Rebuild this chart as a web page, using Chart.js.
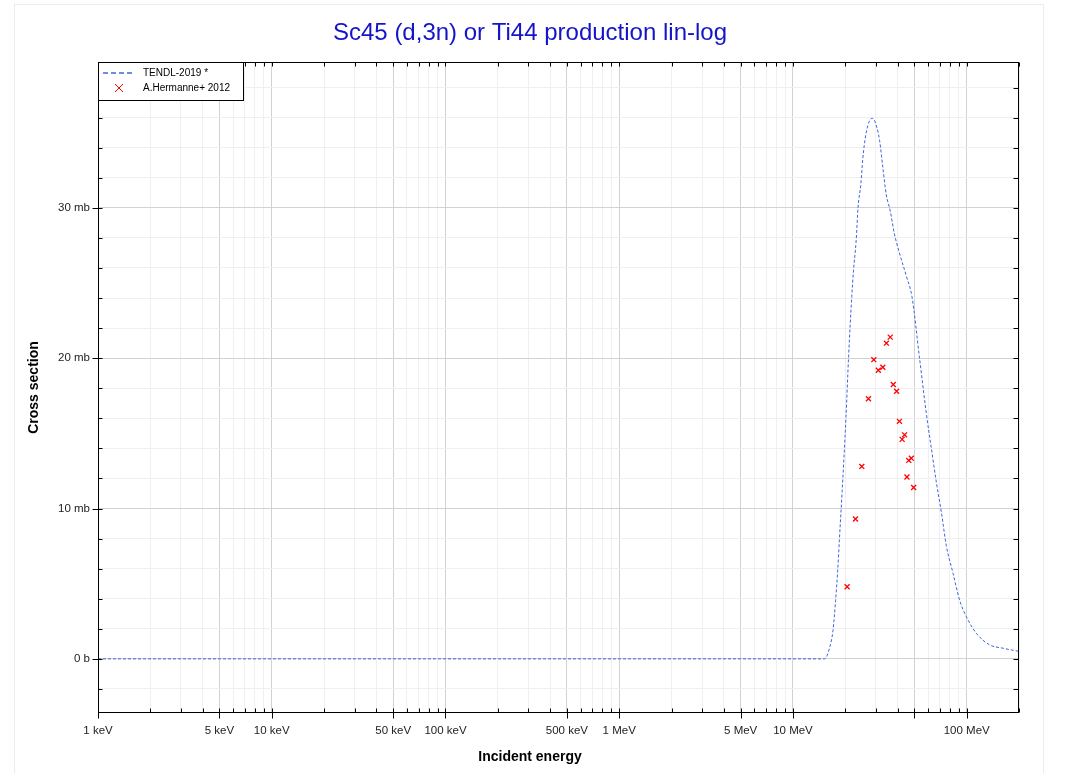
<!DOCTYPE html>
<html>
<head>
<meta charset="utf-8">
<script src="https://cdn.jsdelivr.net/npm/chart.js@4/dist/chart.umd.min.js"></script>
<style>
  body { margin: 0; background: #fff; }
  canvas { display: block; }
</style>
</head>
<body>
<canvas id="xsChart" width="1067" height="773"></canvas>
<script>
/*
DATA
*/
// TENDL-2019 evaluation, energy in MeV, cross section in mb
const tendlEnergy = [0.001, 15.2, 16.3, 17.0, 17.6, 18.1, 18.5, 19.2, 20.2, 20.9, 21.8, 22.3, 23.1, 23.7,
  24.6, 25.2, 26.3, 27.6, 28.5, 29.5, 31.5, 32.9, 34.4, 36.3, 38.3, 41.0, 45.1, 48.4, 53.4, 58.3,
  63.7, 67.0, 71.6, 76.4, 83.4, 91.1, 99.6, 113.7, 135.6, 161.5, 200];
const tendlXs = [0, 0, 0.8, 1.9, 3.9, 5.9, 7.9, 11.2, 16.1, 20.1, 24.1, 25.8, 27.8, 30.05,
  31.6, 33.2, 34.9, 35.8, 35.95, 35.8, 34.5, 32.7, 30.9, 29.8, 28.3, 27.0, 25.4, 24.1, 20.1, 16.5,
  13.4, 11.7, 9.7, 7.5, 5.7, 3.9, 2.8, 1.7, 0.93, 0.71, 0.5];

// A.Hermanne+ 2012 measurements
const expEnergy = [20.5, 22.9, 24.9, 27.2, 29.2, 31.0, 32.9, 34.5, 36.3, 37.8, 39.5, 41.0, 42.5,
  43.9, 45.3, 46.4, 48.0, 49.5];
const expXs = [4.8, 9.3, 12.8, 17.3, 19.9, 19.2, 19.4, 21.0, 21.4, 18.25, 17.8, 15.8, 14.6,
  14.9, 12.1, 13.2, 13.35, 11.4];

// tick labels
const xLabelled = [0.001, 0.005, 0.01, 0.05, 0.1, 0.5, 1, 5, 10, 100];
const xMajorGrid = [0.001, 0.005, 0.01, 0.05, 0.1, 0.5, 1, 5, 10, 50, 100];
const yLabelled = [0, 10, 20, 30];

const FONT = '"Liberation Sans", Arial, Helvetica, sans-serif';
const BLUE = '#3d66dd';

// full log tick list 1..9 per decade
let xTicks = [];
for (let d = -3; d <= 2; d++) {
  for (let m = 1; m <= 9; m++) {
    let v = +(m * Math.pow(10, d)).toPrecision(3);
    if (v <= 200) xTicks.push(v);
  }
}
let yTicks = [];
for (let v = -2; v <= 38; v += 2) yTicks.push(v);

function near(list, v) {
  return list.some(a => Math.abs(a - v) / a < 1e-6 || (a === 0 && v === 0));
}
function energyLabel(v) {
  if (!near(xLabelled, v)) return '';
  if (v < 1) return Math.round(v * 1000) + ' keV';
  return Math.round(v) + ' MeV';
}
function xsLabel(v) {
  if (!yLabelled.includes(v)) return '';
  return v === 0 ? '0 b' : v + ' mb';
}

/*
DECORATION PLUGIN: frame, tick marks, legend, titles
*/
const decor = {
  id: 'decor',
  beforeDraw(chart) {
    const ctx = chart.ctx;
    ctx.save();
    ctx.fillStyle = '#fff';
    ctx.fillRect(0, 0, chart.width, chart.height);
    ctx.strokeStyle = '#ececec';
    ctx.lineWidth = 1;
    ctx.strokeRect(14.5, 4.5, 1029, 800);
    ctx.restore();
  },
  afterDatasetsDraw(chart) {
    const ctx = chart.ctx;
    const a = chart.chartArea;
    const xs = chart.scales.x, ys = chart.scales.y;
    const L = Math.round(a.left) + 0.5, R = Math.round(a.right) - 0.5;
    const T = Math.round(a.top) + 0.5, B = Math.round(a.bottom) - 0.5;
    ctx.save();
    ctx.strokeStyle = '#000';
    ctx.lineWidth = 1;
    ctx.beginPath();
    for (let v of xTicks) {
      let px = Math.round(xs.getPixelForValue(v)) + 0.5;
      let major = near(xMajorGrid, v);
      ctx.moveTo(px, B - 4); ctx.lineTo(px, major ? B + 6 : B);
      ctx.moveTo(px, T); ctx.lineTo(px, T + 4);
    }
    for (let v of yTicks) {
      let py = Math.round(ys.getPixelForValue(v)) + 0.5;
      let major = yLabelled.includes(v);
      ctx.moveTo(major ? L - 6 : L, py); ctx.lineTo(L + 4, py);
      ctx.moveTo(R - 5, py); ctx.lineTo(R, py);
    }
    ctx.stroke();
    ctx.strokeRect(L, T, R - L, B - T);

    // legend box
    const ds = chart.data.datasets;
    ctx.fillStyle = '#fff';
    ctx.fillRect(L, T, 145, 38);
    ctx.strokeRect(L, T, 145, 38);
    ctx.font = '10px ' + FONT;
    ctx.fillStyle = '#000';
    ctx.textBaseline = 'middle';
    ctx.textAlign = 'left';
    ctx.fillText(ds[0].label, 143, 73);
    ctx.fillText(ds[1].label, 143, 88);
    ctx.strokeStyle = BLUE;
    ctx.lineWidth = 1.6;
    ctx.setLineDash([5, 3]);
    ctx.beginPath();
    ctx.moveTo(103, 73); ctx.lineTo(132, 73);
    ctx.stroke();
    ctx.setLineDash([]);
    ctx.lineWidth = 1;
    ctx.strokeStyle = '#ff0000';
    ctx.beginPath();
    ctx.moveTo(115, 84); ctx.lineTo(123, 92);
    ctx.moveTo(123, 84); ctx.lineTo(115, 92);
    ctx.stroke();

    // titles
    ctx.fillStyle = '#1414c8';
    ctx.font = '24px ' + FONT;
    ctx.textAlign = 'center';
    ctx.fillText('Sc45 (d,3n) or Ti44 production lin-log', 530, 33);
    ctx.fillStyle = '#000';
    ctx.font = 'bold 14px ' + FONT;
    ctx.fillText('Incident energy', 530, 757);
    ctx.translate(34, (a.top + a.bottom) / 2);
    ctx.rotate(-Math.PI / 2);
    ctx.fillText('Cross section', 0, 0);
    ctx.restore();
  }
};

let chart = new Chart(document.getElementById('xsChart'), {
  type: 'scatter',
  data: {
    datasets: [{
      label: 'TENDL-2019 *',
      data: tendlEnergy.map((e, i) => ({ x: e, y: tendlXs[i] })),
      showLine: true,
      borderColor: BLUE,
      borderWidth: 1,
      borderDash: [3, 2],
      pointRadius: 0,
      cubicInterpolationMode: 'monotone'
    }, {
      label: 'A.Hermanne+ 2012',
      data: expEnergy.map((e, i) => ({ x: e, y: expXs[i] })),
      showLine: false,
      pointStyle: 'crossRot',
      pointRadius: 3.5,
      borderColor: '#ff0000',
      backgroundColor: '#ff0000',
      borderWidth: 1.3
    }]
  },
  options: {
    responsive: false,
    animation: false,
    devicePixelRatio: 1,
    layout: { padding: { left: 0, right: 48, top: 62, bottom: 0 } },
    plugins: {
      legend: { display: false },
      tooltip: { enabled: false },
      title: { display: false }
    },
    scales: {
      x: {
        type: 'logarithmic',
        min: 0.001,
        max: 200,
        afterBuildTicks: s => { s.ticks = xTicks.map(v => ({ value: v })); },
        afterFit: s => { s.height = 60; },
        border: { display: false },
        grid: {
          drawTicks: false,
          color: c => near(xMajorGrid, c.tick.value) ? '#d2d2d2' : '#efefef'
        },
        ticks: {
          autoSkip: false,
          maxRotation: 0,
          padding: 11,
          color: '#222',
          font: { family: FONT, size: 11.5 },
          callback: v => energyLabel(v)
        }
      },
      y: {
        min: -3.6,
        max: 39.7,
        afterBuildTicks: s => { s.ticks = yTicks.map(v => ({ value: v })); },
        afterFit: s => { s.width = 98; },
        border: { display: false },
        grid: {
          drawTicks: false,
          color: c => yLabelled.includes(c.tick.value) ? '#d2d2d2' : '#efefef'
        },
        ticks: {
          autoSkip: false,
          padding: 8,
          color: '#222',
          font: { family: FONT, size: 11.5 },
          callback: v => xsLabel(v)
        }
      }
    }
  },
  plugins: [decor]
});
</script>
</body>
</html>
